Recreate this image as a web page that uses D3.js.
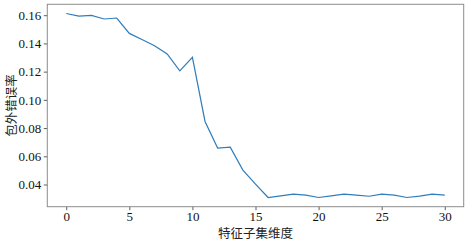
<!DOCTYPE html>
<html><head><meta charset="utf-8">
<script src="https://cdn.jsdelivr.net/npm/d3@7/dist/d3.min.js"></script>
<style>body{margin:0;background:#fff}</style>
</head><body><svg id="c" width="467" height="245"></svg>
<script>
const xValues = d3.range(0, 31);
const oobError = [0.1612,0.1594,0.1599,0.1573,0.1580,0.1471,0.1428,0.1384,0.1325,0.1206,0.1301,0.0847,0.0658,0.0665,0.0502,0.0403,0.0308,0.0319,0.0332,0.0325,0.0308,0.0320,0.0332,0.0325,0.0317,0.0332,0.0325,0.0308,0.0318,0.0332,0.0325];
const xTicks = [0,5,10,15,20,25,30];
const yTicks = [0.04,0.06,0.08,0.10,0.12,0.14,0.16];
const xLabel = "特征子集维度";
const yLabel = "包外错误率";

const L=47.3, R=463.7, T=4.3, B=206.7;
const svg = d3.select("#c");
const x = d3.scaleLinear().domain([-1.5,31.5]).range([L,R]);
const ymin = d3.min(oobError), ymax = d3.max(oobError), pad=(ymax-ymin)*0.05;
const y = d3.scaleLinear().domain([ymin-pad, ymax+pad]).range([B,T]);

const serif = "'Liberation Serif', 'Times New Roman', serif";
const xa = svg.append("g").attr("transform",`translate(0,${B})`)
  .call(d3.axisBottom(x).tickValues(xTicks).tickFormat(d3.format("d")).tickSize(3.5).tickPadding(1.5));
const ya = svg.append("g").attr("transform",`translate(${L},0)`)
  .call(d3.axisLeft(y).tickValues(yTicks).tickFormat(d3.format(".2f")).tickSize(3.5).tickPadding(2.5));
[xa,ya].forEach(a=>{
  a.attr("font-family",null).attr("font-size",null);
  a.select(".domain").remove();
  a.selectAll("line").attr("stroke","#333").attr("stroke-width",0.8);
  a.selectAll("text").style("font-family",serif).style("font-size","13px").attr("fill","#111");
});
svg.append("rect").attr("x",L).attr("y",T).attr("width",R-L).attr("height",B-T)
  .attr("fill","none").attr("stroke","#8c8c8c").attr("stroke-width",1);

svg.append("path").datum(xValues)
  .attr("fill","none").attr("stroke","#2f7dbb").attr("stroke-width",1.2)
  .attr("d", d3.line().x(d=>x(d)).y((d,i)=>y(oobError[i])));

svg.append("text").attr("x",(L+R)/2).attr("y",238).attr("text-anchor","middle")
  .style("font-family","'Noto Sans CJK SC', sans-serif").style("font-size","12.5px").attr("fill","#222").text(xLabel);
svg.append("text").attr("transform",`translate(12,${(T+B)/2}) rotate(-90)`).attr("text-anchor","middle")
  .attr("dy","0.35em")
  .style("font-family","'Noto Sans CJK SC', sans-serif").style("font-size","12.5px").attr("fill","#222").text(yLabel);
</script></body></html>
